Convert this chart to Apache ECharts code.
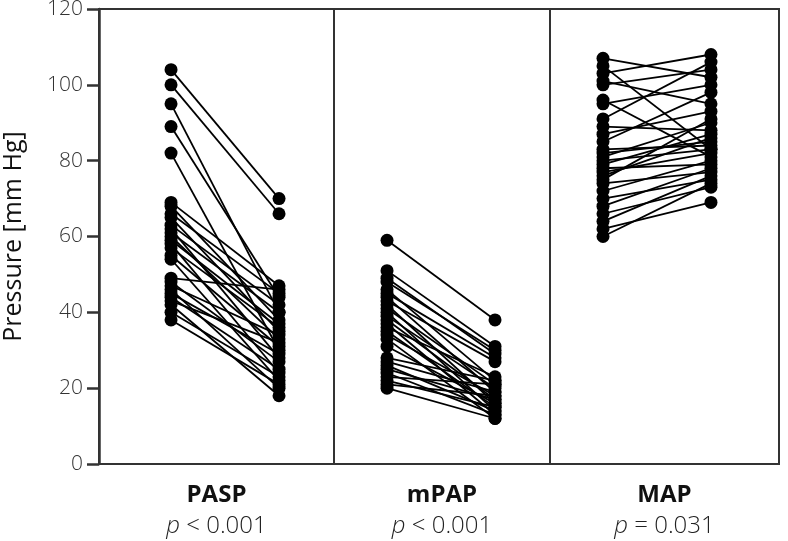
<!DOCTYPE html>
<html>
<head>
<meta charset="utf-8">
<script src="https://cdn.jsdelivr.net/npm/echarts@6/dist/echarts.min.js"></script>
<style>html,body{margin:0;padding:0;background:#fff}#chart{width:788px;height:541px}</style>
</head>
<body>
<div id="chart"></div>
<script>
// Paired before/after pressures, one entry per patient.
const panels = ['PASP', 'mPAP', 'MAP'];
const pValues = ['< 0.001', '< 0.001', '= 0.031'];
const yTicks = [0, 20, 40, 60, 80, 100, 120];

const paspBefore = [104, 100, 95, 89, 82, 69, 68, 66, 65, 63, 62, 61, 60, 59, 58, 57, 55, 54, 49, 48, 47, 46, 45, 44, 43, 42, 40, 38];
const paspAfter  = [70, 66, 40, 44, 30, 47, 38, 45, 35, 42, 28, 40, 33, 37, 24, 36, 31, 22, 46, 27, 34, 20, 29, 25, 32, 18, 23, 21];
const mpapBefore = [59, 51, 49, 48, 46, 45, 44, 43, 42, 41, 40, 39, 38, 37, 36, 35, 34, 33, 31, 28, 27, 26, 25, 24, 23, 22, 21, 20];
const mpapAfter  = [38, 31, 29, 30, 22, 28, 19, 27, 16, 21, 14, 20, 17, 13, 23, 15, 18, 12, 16, 22, 19, 14, 17, 13, 21, 15, 18, 12];
const mapBefore  = [107, 105, 103, 101, 100, 96, 95, 91, 89, 87, 85, 83, 82, 81, 80, 79, 78, 77, 76, 75, 74, 72, 70, 68, 66, 64, 62, 60];
const mapAfter   = [102, 83, 108, 95, 104, 81, 100, 106, 88, 93, 98, 84, 85, 90, 83, 87, 79, 82, 86, 91, 77, 80, 75, 78, 73, 76, 69, 74];

const pairs = [[paspBefore, paspAfter], [mpapBefore, mpapAfter], [mapBefore, mapAfter]];

// panel boxes in px, and x-axis ranges so "before"=0 and "after"=1 land where they do
const boxes = [[99, 235], [334, 216], [550, 229]];
const xRanges = [[-0.667, 1.509], [-0.491, 1.509], [-0.491, 1.63]];
const FONT = 'Open Sans';

const grid = boxes.map(([left, width]) => ({
  left, width, top: 9, height: 455,
  containLabel: false, outerBoundsMode: 'none',
  show: true, borderColor: '#333', borderWidth: 2, backgroundColor: 'transparent',
}));

const xAxis = panels.map((name, i) => ({
  type: 'value', gridIndex: i, min: xRanges[i][0], max: xRanges[i][1],
  axisLine: { show: false }, axisTick: { show: false }, axisLabel: { show: false }, splitLine: { show: false },
  name: '{b|' + name + '}\n{i|p}{n| ' + pValues[i] + '}',
  nameLocation: 'middle', nameGap: 16,
  nameTextStyle: {
    rich: {
      b: { fontFamily: FONT, fontSize: 24, fontWeight: 'bold', color: '#111', lineHeight: 31 },
      i: { fontFamily: FONT, fontSize: 24, fontStyle: 'italic', fontWeight: 300, color: '#222', lineHeight: 31 },
      n: { fontFamily: FONT, fontSize: 24, fontWeight: 300, color: '#222', lineHeight: 31 },
    },
  },
}));

const yAxis = panels.map((_, i) => ({
  type: 'value', gridIndex: i, min: 0, max: 120, interval: 20,
  axisLine: { show: i === 0, onZero: false, lineStyle: { color: '#333', width: 2.5 } },
  axisTick: { show: i === 0, length: 12, lineStyle: { color: '#333', width: 2.5 } },
  axisLabel: { show: i === 0, fontFamily: FONT, fontSize: 21, fontWeight: 300, color: '#333', margin: 16,
    formatter: (v) => (yTicks.includes(v) ? String(v) : '') },
  splitLine: { show: false },
  name: i === 0 ? 'Pressure [mm Hg]' : '', nameLocation: 'middle', nameGap: 73,
  nameTextStyle: { fontFamily: FONT, fontSize: 25, color: '#111' },
}));

const series = [];
pairs.forEach(([before, after], i) => {
  before.forEach((b, k) => {
    series.push({
      type: 'line', xAxisIndex: i, yAxisIndex: i,
      data: [[0, b], [1, after[k]]],
      symbol: 'circle', symbolSize: 13, showSymbol: true,
      lineStyle: { color: '#000', width: 1.8 },
      itemStyle: { color: '#000' },
      silent: true, animation: false,
    });
  });
});

const chart = echarts.init(document.getElementById('chart'), null, { renderer: 'canvas' });
chart.setOption({ animation: false, grid, xAxis, yAxis, series });
</script>
</body>
</html>
